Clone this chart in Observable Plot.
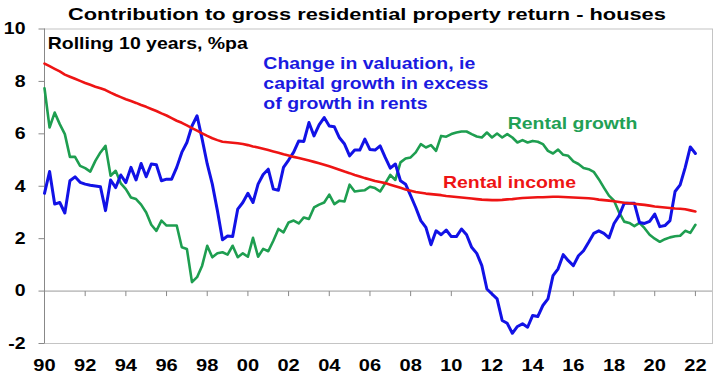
<!DOCTYPE html>
<html><head><meta charset="utf-8">
<script src="https://cdn.jsdelivr.net/npm/d3@7"></script>
<script src="https://cdn.jsdelivr.net/npm/@observablehq/plot@0.6"></script>
<style>
body{margin:0;background:#fff;width:720px;height:378px;overflow:hidden;font-family:"Liberation Sans",Arial,sans-serif}
#title{position:relative;height:12px;z-index:2}
#title span{position:absolute;left:68px;top:6.1px;font-weight:bold;font-size:17.2px;line-height:1;white-space:nowrap;transform:scaleX(1.27);transform-origin:0 0;color:#000}
#chart{position:relative;z-index:1}
</style></head>
<body>
<div id="title"><span>Contribution to gross residential property return - houses</span></div>
<div id="chart"></div>
<script>
// Quarterly series, first value at 1990 Q1 (1990.00), last at 2022.00
const startYear = 1990;
const quarter = 0.25;

const valuationChange = [
  3.73, 4.56, 3.32, 3.38,
  2.98, 4.21, 4.36, 4.15,
  4.08, 4.04, 4.01, 3.98,
  3.07, 4.24, 3.95, 4.43,
  4.14, 4.72, 4.24, 4.87,
  4.36, 4.85, 4.82, 4.21,
  4.27, 4.27, 4.72, 5.29,
  5.67, 6.30, 6.69, 5.80,
  4.85, 4.08, 3.07, 1.96,
  2.10, 2.08, 3.13, 3.38,
  3.73, 3.38, 4.08, 4.45,
  4.65, 3.89, 3.85, 4.72,
  5.00, 5.30, 5.73, 5.71,
  6.43, 5.92, 6.34, 6.62,
  6.30, 6.27, 5.85, 5.61,
  5.16, 5.38, 5.38, 5.80,
  5.40, 5.38, 5.54, 5.10,
  4.69, 4.85, 4.21, 4.08,
  3.64, 3.19, 2.69, 2.43,
  1.77, 2.30, 2.15, 2.33,
  2.08, 2.08, 2.37, 2.15,
  1.67, 1.44, 0.97, 0.08,
  -0.11, -0.30, -1.12, -1.23,
  -1.61, -1.35, -1.25, -1.38,
  -0.93, -0.97, -0.55, -0.30,
  0.59, 0.85, 1.39, 1.16,
  0.97, 1.35, 1.54, 1.86,
  2.20, 2.30, 2.20, 2.03,
  2.58, 2.88, 3.35, 3.35,
  3.35, 2.62, 2.58, 2.66,
  2.94, 2.46, 2.50, 2.69,
  3.80, 4.05, 4.72, 5.50,
  5.25
];

const rentalGrowth = [
  7.74, 6.24, 6.81, 6.37,
  5.99, 5.12, 5.12, 4.78,
  4.69, 4.56, 4.97, 5.29,
  5.54, 4.40, 4.59, 4.11,
  3.89, 3.57, 3.51, 3.30,
  3.00, 2.53, 2.30, 2.69,
  2.50, 2.50, 2.50, 1.67,
  1.61, 0.34, 0.53, 0.97,
  1.73, 1.29, 1.44, 1.48,
  1.39, 1.73, 1.29, 1.44,
  1.31, 2.03, 1.31, 1.61,
  1.52, 1.92, 2.37, 2.24,
  2.62, 2.69, 2.58, 2.81,
  2.75, 3.19, 3.30, 3.38,
  3.68, 3.32, 3.45, 3.42,
  4.06, 3.80, 3.83, 3.85,
  3.98, 3.93, 3.80, 4.11,
  4.43, 4.24, 4.91, 5.06,
  5.10, 5.29, 5.61, 5.48,
  5.57, 5.35, 5.92, 5.89,
  5.99, 6.05, 6.09, 6.09,
  5.99, 5.90, 5.86, 6.05,
  5.86, 6.01, 5.86, 5.99,
  5.86, 5.67, 5.76, 5.67,
  5.73, 5.70, 5.61, 5.35,
  5.25, 5.40, 5.20, 5.16,
  4.95, 4.85, 4.70, 4.65,
  4.55, 4.27, 3.95, 3.64,
  3.45, 3.00, 2.65, 2.60,
  2.48, 2.60, 2.40, 2.15,
  2.00, 1.88, 1.98, 2.05,
  2.09, 2.11, 2.30, 2.22,
  2.53
];

const rentalIncome = [
  8.68, 8.58, 8.48, 8.38,
  8.26, 8.18, 8.10, 8.02,
  7.94, 7.87, 7.80, 7.74,
  7.67, 7.57, 7.48, 7.40,
  7.32, 7.25, 7.18, 7.10,
  7.03, 6.95, 6.87, 6.78,
  6.70, 6.60, 6.50, 6.42,
  6.32, 6.22, 6.12, 6.02,
  5.92, 5.83, 5.76, 5.70,
  5.68, 5.66, 5.64, 5.61,
  5.57, 5.52, 5.48, 5.43,
  5.38, 5.33, 5.28, 5.22,
  5.17, 5.12, 5.08, 5.03,
  4.98, 4.93, 4.88, 4.82,
  4.76, 4.70, 4.63, 4.56,
  4.50, 4.43, 4.37, 4.31,
  4.26, 4.20, 4.16, 4.12,
  4.06, 4.00, 3.94, 3.88,
  3.83, 3.78, 3.75, 3.72,
  3.70, 3.68, 3.66, 3.63,
  3.61, 3.59, 3.57, 3.55,
  3.53, 3.51, 3.49, 3.48,
  3.47, 3.47, 3.48, 3.50,
  3.51, 3.53, 3.55, 3.56,
  3.57, 3.58, 3.58, 3.59,
  3.60, 3.60, 3.59, 3.58,
  3.57, 3.56, 3.55, 3.54,
  3.52, 3.49, 3.47, 3.45,
  3.43, 3.40, 3.37, 3.35,
  3.33, 3.31, 3.29, 3.26,
  3.23, 3.21, 3.19, 3.17,
  3.15, 3.14, 3.12, 3.08,
  3.04
];

const xTicks = [1990, 1992, 1994, 1996, 1998, 2000, 2002, 2004, 2006, 2008, 2010, 2012, 2014, 2016, 2018, 2020, 2022];
const xTickLabels = ["90", "92", "94", "96", "98", "00", "02", "04", "06", "08", "10", "12", "14", "16", "18", "20", "22"];
const yTicks = [-2, 0, 2, 4, 6, 8, 10];
const yTickLabels = ["-2", "0", "2", "4", "6", "8", "10"];
const xDomain = [1990, 2022.84];
const yDomain = [-2, 10];

const noteLabels = ["Rolling 10 years, %pa", "Change in valuation, ie\ncapital growth in excess\nof growth in rents", "Rental growth", "Rental income"];
const noteX = [1990.16, 2000.76, 2012.77, 2009.59];
const noteY = [9.22, 6.95, 6.18, 3.93];

const BLUE = "#1212e6", GREEN = "#1e9e50", RED = "#ee1414";
const noteColors = ["#000", "#1a1ae0", "#22a055", "#ee1414"];

const toRows = (vals) => vals.map((v, i) => ({year: startYear + i * quarter, value: v}));
const notes = noteLabels.map((t, i) => ({text: t, x: noteX[i], y: noteY[i], color: noteColors[i]}));
const xLab = xTicks.map((v, i) => ({v, t: xTickLabels[i]}));
const yLab = yTicks.map((v, i) => ({v, t: yTickLabels[i]}));

const vTick = {draw(ctx) { ctx.moveTo(0, 0); ctx.lineTo(0, 5); }};
const hTick = {draw(ctx) { ctx.moveTo(-6, 0); ctx.lineTo(0, 0); }};

const plot = Plot.plot({
  width: 720,
  height: 366,
  marginTop: 16.5,
  marginBottom: 35,
  marginLeft: 44,
  marginRight: 8,
  style: {fontFamily: '"Liberation Sans", Arial, sans-serif', fontSize: "16.5px", fontWeight: "bold", color: "#000", background: "transparent"},
  x: {domain: xDomain, axis: null},
  y: {domain: yDomain, axis: null},
  marks: [
    Plot.frame({stroke: "#c4c4c4"}),
    Plot.ruleY([0], {stroke: "#9a9a9a"}),
    Plot.ruleX([xDomain[0]], {stroke: "#888"}),
    Plot.dot(xTicks.slice(1), {x: d => d, y: 0, symbol: vTick, stroke: "#888", fill: "none", strokeWidth: 1}),
    Plot.dot(yTicks, {y: d => d, frameAnchor: "left", symbol: hTick, stroke: "#888", fill: "none", strokeWidth: 1}),
    Plot.text(yLab, {y: "v", text: "t", frameAnchor: "left", textAnchor: "end", dx: -19, fill: "#000", fontSize: 16.5}),
    Plot.text(xLab, {x: "v", text: "t", frameAnchor: "bottom", lineAnchor: "top", dy: 15, fill: "#000", fontSize: 17}),
    Plot.line(toRows(rentalGrowth), {x: "year", y: "value", stroke: GREEN, strokeWidth: 2.6, strokeLinejoin: "round"}),
    Plot.line(toRows(valuationChange), {x: "year", y: "value", stroke: BLUE, strokeWidth: 3, strokeLinejoin: "round"}),
    Plot.line(toRows(rentalIncome), {x: "year", y: "value", stroke: RED, strokeWidth: 2.6, strokeLinejoin: "round"}),
    Plot.text(notes, {x: "x", y: "y", text: "text", fill: "color", textAnchor: "start", lineAnchor: "bottom", lineHeight: 1.2, fontSize: 16.5})
  ]
});

// Reference typeface is horizontally wide: stretch text glyphs around their anchors
plot.querySelectorAll("text").forEach(t => {
  const tr = t.getAttribute("transform");
  if (tr && tr.includes("translate")) t.setAttribute("transform", tr + " scale(1.18,1)");
});

document.getElementById("chart").appendChild(plot);
</script>
</body></html>
